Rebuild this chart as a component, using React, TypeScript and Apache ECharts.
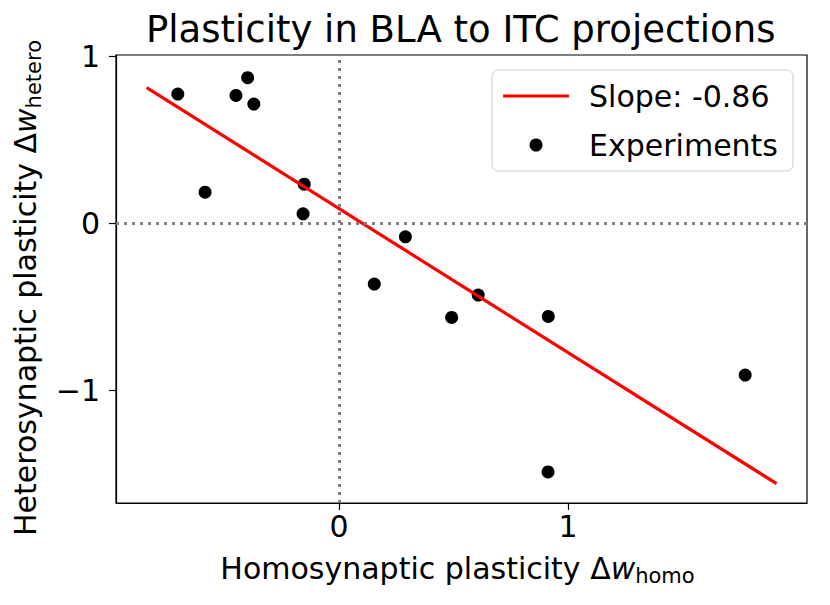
import React, { useEffect, useRef } from "react";
import * as echarts from "echarts";

const FONT = "DejaVu Sans";

const titleText = "Plasticity in BLA to ITC projections";
const lineLabel = "Slope: -0.86";
const scatterLabel = "Experiments";

// Experiments: homosynaptic (x) and heterosynaptic (y) plasticity
const homo = [-0.704, -0.585, -0.45, -0.399, -0.372, -0.152, -0.157, 0.154, 0.29, 0.492, 0.608, 0.914, 0.913, 1.774];
const hetero = [0.774, 0.186, 0.766, 0.872, 0.714, 0.234, 0.056, -0.365, -0.082, -0.565, -0.431, -0.559, -1.491, -0.91];

// Fit line end points
const fitX = [-0.84, 1.911];
const fitY = [0.812, -1.561];

const xTicks = [0, 1];
const yTicks = [-1, 0, 1];
const xRange = [-0.974, 2.044];
const yRange = [-1.677, 1.008];

const fmt = (v: number) => (v < 0 ? "\u2212" + Math.abs(v) : String(v));

export default function App() {
  const ref = useRef<HTMLDivElement>(null);
  useEffect(() => {
    if (!ref.current) return;
    const chart = echarts.init(ref.current, null, { renderer: "svg" });
    const rich = {
      n: { fontFamily: FONT, fontSize: 30, lineHeight: 30, padding: [0, 0, 4, 0], color: "#000" },
      i: { fontFamily: FONT, fontSize: 30, lineHeight: 30, padding: [0, 0, 4, 0], fontStyle: "italic", color: "#000" },
      s: { fontFamily: FONT, fontSize: 21, lineHeight: 22, padding: [12, 0, 0, 0], color: "#000" },
    };
    const option: any = {
      animation: false,
      backgroundColor: "#fff",
      title: {
        text: titleText,
        left: 146,
        top: 11,
        padding: 0,
        textStyle: { fontFamily: FONT, fontSize: 37, fontWeight: "normal", color: "#000", lineHeight: 36 },
      },
      legend: {
        orient: "vertical",
        right: 37,
        top: 70,
        padding: [8, 15, 8, 11],
        itemWidth: 66,
        itemHeight: 13,
        itemGap: 13,
        selectedMode: false,
        backgroundColor: "rgba(255,255,255,0.8)",
        borderColor: "#cccccc",
        borderWidth: 1,
        borderRadius: 6,
        textStyle: { fontFamily: FONT, fontSize: 30, color: "#000", lineHeight: 36, padding: [0, 0, 0, 15] },
        data: [
          { name: lineLabel, icon: "path://M0,0 L66,0 L66,3.2 L0,3.2 Z", itemStyle: { color: "#ff0000" } },
          { name: scatterLabel, icon: "circle", itemStyle: { color: "#000", opacity: 1 } },
        ],
      },
      grid: {
        left: 116,
        right: 23,
        top: 55,
        bottom: 102,
        show: true,
        borderColor: "#000",
        borderWidth: 1.2,
        containLabel: false,
      },
      xAxis: {
        type: "value",
        min: xRange[0],
        max: xRange[1],
        name: "{n|Homosynaptic plasticity Δ}{i|w}{s|homo}",
        nameLocation: "middle",
        nameGap: 52,
        nameTextStyle: { rich, padding: [0, 8, 0, 0] },
        axisLine: { show: true, onZero: false, lineStyle: { color: "#000", width: 1.2 } },
        axisTick: { show: true, length: 7, customValues: xTicks, lineStyle: { color: "#000", width: 1.2 } },
        axisLabel: {
          customValues: xTicks,
          margin: 8,
          fontFamily: FONT,
          fontSize: 30,
          color: "#000",
          formatter: fmt,
        },
        splitLine: { show: false },
      },
      yAxis: {
        type: "value",
        min: yRange[0],
        max: yRange[1],
        name: "{n|Heterosynaptic plasticity Δ}{i|w}{s|hetero}",
        nameLocation: "middle",
        nameRotate: 90,
        nameGap: 67,
        nameTextStyle: { rich, padding: [0, 18, 0, 0] },
        axisLine: { show: true, onZero: false, lineStyle: { color: "#000", width: 1.2 } },
        axisTick: { show: true, length: 7, customValues: yTicks, lineStyle: { color: "#000", width: 1.2 } },
        axisLabel: {
          customValues: yTicks,
          margin: 16,
          fontFamily: FONT,
          fontSize: 30,
          color: "#000",
          formatter: fmt,
        },
        splitLine: { show: false },
      },
      series: [
        {
          type: "line",
          name: "zero-lines",
          data: [],
          z: 1,
          silent: true,
          markLine: {
            silent: true,
            symbol: "none",
            label: { show: false },
            lineStyle: { color: "#808080", width: 3, type: [3, 5] },
            emphasis: { disabled: true },
            data: [{ xAxis: 0 }, { yAxis: 0 }],
          },
        },
        {
          type: "scatter",
          name: scatterLabel,
          data: homo.map((x, k) => [x, hetero[k]]),
          symbol: "circle",
          symbolSize: 13,
          itemStyle: { color: "#000", opacity: 1 },
          z: 2,
        },
        {
          type: "line",
          name: lineLabel,
          data: fitX.map((x, k) => [x, fitY[k]]),
          symbol: "none",
          showSymbol: false,
          lineStyle: { color: "#ff0000", width: 3.2 },
          itemStyle: { color: "#ff0000" },
          z: 3,
        },
      ],
    };
    chart.setOption(option);
    return () => chart.dispose();
  }, []);
  return (
    <div
      ref={ref}
      style={{ position: "fixed", left: 0, top: 0, width: 830, height: 605, background: "#fff" }}
    />
  );
}
